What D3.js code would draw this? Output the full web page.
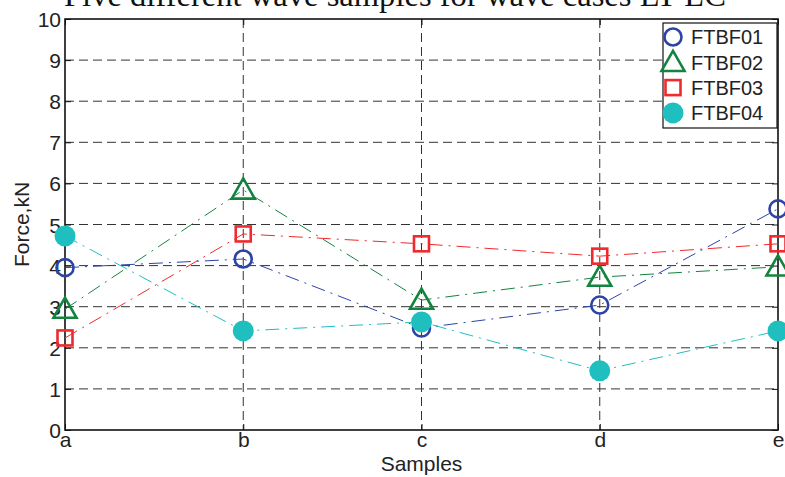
<!DOCTYPE html>
<html>
<head>
<meta charset="utf-8">
<script src="https://cdn.jsdelivr.net/npm/d3@7"></script>
<style>
  html, body { margin: 0; padding: 0; background: #fff; }
  svg { display: block; }
  text { font-family: "Liberation Sans", Arial, sans-serif; fill: #222; }
</style>
</head>
<body>
<svg id="chart" width="785" height="477"></svg>
<script>
// Sample labels along the x axis
const samples = ["a", "b", "c", "d", "e"];
const yTicks = [0, 1, 2, 3, 4, 5, 6, 7, 8, 9, 10];

// Measured force (kN) per case
const ftbf01 = [3.95, 4.16, 2.48, 3.04, 5.38];
const ftbf02 = [2.94, 5.84, 3.16, 3.72, 3.97];
const ftbf03 = [2.24, 4.77, 4.53, 4.23, 4.53];
const ftbf04 = [4.72, 2.41, 2.63, 1.44, 2.41];

const seriesNames = ["FTBF01", "FTBF02", "FTBF03", "FTBF04"];
const seriesValues = [ftbf01, ftbf02, ftbf03, ftbf04];
const seriesColors = ["#2d44a6", "#13843f", "#ee2a2e", "#1fbfbf"];
const seriesShapes = ["circle", "triangle", "square", "disc"];

const svg = d3.select("#chart");
const margin = { left: 65, right: 7, top: 19, bottom: 47 };
const W = 785, H = 477;

const x = d3.scalePoint().domain(samples).range([margin.left, W - margin.right]);
const y = d3.scaleLinear().domain([0, 10]).range([H - margin.bottom, margin.top]);

const x0 = margin.left, x1 = W - margin.right;
const y0 = y(0), y1 = y(10);

// Title (runs off the top edge)
svg.append("text")
  .attr("x", 64).attr("y", 6)
  .style("font-family", "'Liberation Serif', 'Times New Roman', serif")
  .style("font-size", "32.6px")
  .style("fill", "#111")
  .text("Five different wave samples for wave cases LT-LC");

// Dashed grid
const grid = svg.append("g").attr("stroke", "#333").attr("stroke-width", 1)
  .attr("stroke-dasharray", "9,5").attr("fill", "none");
grid.selectAll("line.h").data(yTicks.filter(d => d > 0 && d < 10)).join("line")
  .attr("x1", x0).attr("x2", x1).attr("y1", d => y(d)).attr("y2", d => y(d));
grid.selectAll("line.v").data(samples.slice(1, -1)).join("line")
  .attr("x1", d => x(d)).attr("x2", d => x(d)).attr("y1", y1).attr("y2", y0);

// Axes
const yAxis = d3.axisLeft(y).tickValues(yTicks).tickSize(-6).tickPadding(4).tickFormat(d3.format("d"));
const yAxisR = d3.axisRight(y).tickValues(yTicks).tickSize(-6).tickFormat("");
const xAxis = d3.axisBottom(x).tickSize(-6).tickPadding(3);
const xAxisT = d3.axisTop(x).tickSize(-6).tickFormat("");

function styleAxis(g) {
  g.select(".domain").remove();
  g.selectAll(".tick line").attr("stroke", "#111").attr("stroke-width", 1);
  g.selectAll(".tick text").style("font-size", "21px").style("fill", "#222")
    .style("font-family", "'Liberation Sans', Arial, sans-serif");
}
svg.append("g").attr("transform", `translate(${x0},0)`).call(yAxis).call(styleAxis)
  .selectAll(".tick text").attr("dy", "0.36em");
svg.append("g").attr("transform", `translate(${x1},0)`).call(yAxisR).call(styleAxis);
svg.append("g").attr("transform", `translate(0,${y0})`).call(xAxis).call(styleAxis)
  .selectAll(".tick text").attr("dy", "0.68em");
svg.append("g").attr("transform", `translate(0,${y1})`).call(xAxisT).call(styleAxis);

// Axes box
svg.append("rect").attr("x", x0).attr("y", y1).attr("width", x1 - x0).attr("height", y0 - y1)
  .attr("fill", "none").attr("stroke", "#111").attr("stroke-width", 1.6);

// Axis labels
svg.append("text").attr("x", (x0 + x1) / 2).attr("y", 471).attr("text-anchor", "middle")
  .style("font-size", "21px").text("Samples");
svg.append("text").attr("transform", `translate(29,${(y0 + y1) / 2}) rotate(-90)`)
  .attr("text-anchor", "middle").style("font-size", "21px").text("Force,kN");

// Marker drawing
function drawMarker(g, shape, color, cx, cy) {
  if (shape === "circle") {
    g.append("circle").attr("cx", cx).attr("cy", cy).attr("r", 8.5)
      .attr("fill", "none").attr("stroke", color).attr("stroke-width", 2.6);
  } else if (shape === "triangle") {
    const s = 11.5;
    g.append("path")
      .attr("d", `M${cx},${cy - s}L${cx + s},${cy + s * 0.75}L${cx - s},${cy + s * 0.75}Z`)
      .attr("fill", "none").attr("stroke", color).attr("stroke-width", 2.6);
  } else if (shape === "square") {
    const s = 7.5;
    g.append("rect").attr("x", cx - s).attr("y", cy - s).attr("width", 2 * s).attr("height", 2 * s)
      .attr("fill", "none").attr("stroke", color).attr("stroke-width", 2.6);
  } else {
    g.append("circle").attr("cx", cx).attr("cy", cy).attr("r", 10.5).attr("fill", color);
  }
}

// Series lines and markers
const line = d3.line().x((d, i) => x(samples[i])).y(d => y(d));
seriesValues.forEach((vals, k) => {
  const g = svg.append("g");
  g.append("path").attr("d", line(vals)).attr("fill", "none")
    .attr("stroke", seriesColors[k]).attr("stroke-width", 1)
    .attr("stroke-dasharray", "14,6,2,6");
  vals.forEach((v, i) => drawMarker(g, seriesShapes[k], seriesColors[k], x(samples[i]), y(v)));
});

// Legend
const lg = svg.append("g");
lg.append("rect").attr("x", 663).attr("y", 23).attr("width", 114).attr("height", 105)
  .attr("fill", "#fff").attr("stroke", "#111").attr("stroke-width", 1.2);
seriesNames.forEach((name, k) => {
  const cy = 37 + k * 25.3;
  drawMarker(lg, seriesShapes[k], seriesColors[k], 673, cy);
  lg.append("text").attr("x", 691).attr("y", cy).attr("dy", "0.36em")
    .style("font-size", "20px").text(name);
});
</script>
</body>
</html>
